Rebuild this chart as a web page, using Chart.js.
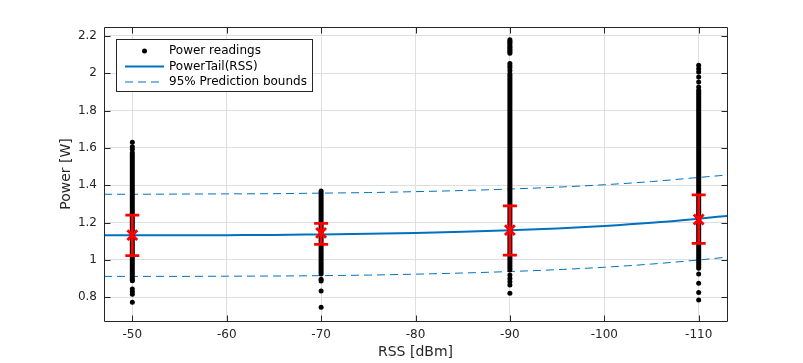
<!DOCTYPE html>
<html>
<head>
<meta charset="utf-8">
<script src="https://cdn.jsdelivr.net/npm/chart.js@4.4.1/dist/chart.umd.min.js"></script>
<style>
  html, body { margin: 0; padding: 0; background: #fff; }
</style>
</head>
<body>
<canvas id="chart-power" width="803" height="363"></canvas>
<script>
// --- data ---
const RSS_LEVELS = [-50, -70, -90, -110];
const X_TICKS = [-110, -100, -90, -80, -70, -60, -50];
const Y_TICKS = [0.8, 1, 1.2, 1.4, 1.6, 1.8, 2, 2.2];

// stretches where the readings overlap into a solid column
const DENSE_LOW  = [0.895, 0.925, 0.946, 0.955];
const DENSE_HIGH = [1.575, 1.370, 1.998, 1.909];

// isolated readings outside the solid stretch
const SPARSE_50  = [1.630, 1.607, 1.593, 0.888, 0.844, 0.830, 0.816, 0.773];
const SPARSE_70  = [0.896, 0.887, 0.834, 0.746];
const SPARSE_90  = [2.180, 2.172, 2.165, 2.157, 2.148, 2.140, 2.132, 2.124, 2.116, 2.108,
                    2.052, 2.040, 2.030, 2.015, 0.919, 0.901, 0.883, 0.866, 0.821];
const SPARSE_110 = [2.043, 2.025, 2.007, 1.980, 1.953, 1.927, 0.925, 0.875, 0.826, 0.785];

// PowerTail(RSS) fit and 95% prediction bounds
const FIT_RSS     = [-47, -50, -55, -60, -65, -70, -75, -80, -85, -90, -95, -100, -105, -110, -113];
const FIT_POWER   = [1.132, 1.132, 1.132, 1.133, 1.134, 1.137, 1.140, 1.145, 1.151, 1.159, 1.169, 1.182, 1.199, 1.221, 1.236];
const UPPER_BOUND = [1.352, 1.352, 1.353, 1.354, 1.355, 1.358, 1.361, 1.366, 1.372, 1.380, 1.390, 1.403, 1.420, 1.442, 1.455];
const LOWER_BOUND = [0.912, 0.912, 0.912, 0.913, 0.914, 0.916, 0.919, 0.924, 0.930, 0.938, 0.948, 0.961, 0.978, 1.000, 1.015];

// mean +/- std per RSS level (red error bars)
const MEAN_POWER = [1.133, 1.145, 1.160, 1.217];
const ERR_HIGH   = [1.240, 1.196, 1.290, 1.349];
const ERR_LOW    = [1.023, 1.084, 1.026, 1.089];

const BLUE = '#0072BD';
const RED  = '#FF0000';
const AXIS = '#262626';
const FONT = "'DejaVu Sans', sans-serif";

const sparse = [SPARSE_50, SPARSE_70, SPARSE_90, SPARSE_110];
const readings = [];
RSS_LEVELS.forEach((x, i) => sparse[i].forEach(y => readings.push({ x, y })));

const denseSets = RSS_LEVELS.map((x, i) => ({
  label: '',
  data: [{ x, y: DENSE_LOW[i] }, { x, y: DENSE_HIGH[i] }],
  showLine: true,
  borderColor: '#000',
  borderWidth: 5,
  borderCapStyle: 'round',
  pointRadius: 0,
  order: 2
}));

const curve = ys => FIT_RSS.map((x, i) => ({ x, y: ys[i] }));

// error bars + axes box with inward ticks
const framePlugin = {
  id: 'frame',
  afterDatasetsDraw(chart) {
    const { ctx, chartArea: a, scales: { x, y } } = chart;
    ctx.save();
    ctx.strokeStyle = RED;
    ctx.lineWidth = 2.8;
    RSS_LEVELS.forEach((v, i) => {
      const px = x.getPixelForValue(v);
      const hi = y.getPixelForValue(ERR_HIGH[i]);
      const lo = y.getPixelForValue(ERR_LOW[i]);
      ctx.beginPath();
      ctx.moveTo(px, hi); ctx.lineTo(px, lo);
      ctx.moveTo(px - 7, hi); ctx.lineTo(px + 7, hi);
      ctx.moveTo(px - 7, lo); ctx.lineTo(px + 7, lo);
      ctx.stroke();
    });

    ctx.strokeStyle = AXIS;
    ctx.lineWidth = 1;
    ctx.beginPath();
    const L = Math.round(a.left) + 0.5, R = Math.round(a.right) + 0.5;
    const T = Math.round(a.top) + 0.5, B = Math.round(a.bottom) + 0.5;
    ctx.rect(L, T, R - L, B - T);
    Y_TICKS.forEach(v => {
      const py = Math.round(y.getPixelForValue(v)) + 0.5;
      ctx.moveTo(L, py); ctx.lineTo(L + 6, py);
      ctx.moveTo(R, py); ctx.lineTo(R - 6, py);
    });
    X_TICKS.forEach(v => {
      const px = Math.round(x.getPixelForValue(v)) + 0.5;
      ctx.moveTo(px, B); ctx.lineTo(px, B - 6);
      ctx.moveTo(px, T); ctx.lineTo(px, T + 6);
    });
    ctx.stroke();
    ctx.restore();
  },
  afterDraw(chart) {
    const { ctx } = chart;
    const bx = 116.5, by = 39.5, bw = 196, bh = 52;
    ctx.save();
    ctx.fillStyle = '#fff';
    ctx.fillRect(bx, by, bw, bh);
    ctx.strokeStyle = AXIS;
    ctx.lineWidth = 1;
    ctx.strokeRect(bx, by, bw, bh);

    const rows = [51, 66.5, 82];
    const x0 = 125, x1 = 164;
    // Power readings
    ctx.fillStyle = '#000';
    ctx.beginPath();
    ctx.arc((x0 + x1) / 2, rows[0], 2.5, 0, Math.PI * 2);
    ctx.fill();
    // fit
    ctx.strokeStyle = BLUE;
    ctx.lineWidth = 2;
    ctx.beginPath(); ctx.moveTo(x0, rows[1]); ctx.lineTo(x1, rows[1]); ctx.stroke();
    // bounds
    ctx.lineWidth = 1;
    ctx.setLineDash([8, 5]);
    ctx.beginPath(); ctx.moveTo(x0, rows[2]); ctx.lineTo(x1, rows[2]); ctx.stroke();
    ctx.setLineDash([]);

    ctx.fillStyle = '#000';
    ctx.font = '12px ' + FONT;
    ctx.textBaseline = 'middle';
    ctx.textAlign = 'left';
    ['Power readings', 'PowerTail(RSS)', '95% Prediction bounds']
      .forEach((t, i) => ctx.fillText(t, 169, rows[i]));
    ctx.restore();
  }
};

new Chart(document.getElementById('chart-power'), {
  type: 'scatter',
  data: {
    datasets: [
      {
        label: 'mean',
        data: RSS_LEVELS.map((x, i) => ({ x, y: MEAN_POWER[i] })),
        pointStyle: 'crossRot',
        pointRadius: 7,
        pointBorderWidth: 2.8,
        pointBorderColor: RED,
        order: 1
      },
      {
        label: 'Power readings',
        data: readings,
        pointRadius: 2.5,
        pointBorderWidth: 0,
        pointBackgroundColor: '#000',
        order: 2
      },
      ...denseSets,
      {
        label: 'PowerTail(RSS)',
        data: curve(FIT_POWER),
        showLine: true,
        borderColor: BLUE,
        borderWidth: 2,
        cubicInterpolationMode: 'monotone',
        pointRadius: 0,
        order: 3
      },
      {
        label: '95% Prediction bounds',
        data: curve(UPPER_BOUND),
        showLine: true,
        borderColor: BLUE,
        borderWidth: 1,
        borderDash: [8, 5],
        cubicInterpolationMode: 'monotone',
        pointRadius: 0,
        order: 3
      },
      {
        label: '95% Prediction bounds',
        data: curve(LOWER_BOUND),
        showLine: true,
        borderColor: BLUE,
        borderWidth: 1,
        borderDash: [8, 5],
        cubicInterpolationMode: 'monotone',
        pointRadius: 0,
        order: 3
      }
    ]
  },
  options: {
    responsive: false,
    devicePixelRatio: 1,
    animation: false,
    layout: { padding: { left: 0, right: 76, top: 27, bottom: 0 } },
    plugins: { legend: { display: false }, tooltip: { enabled: false } },
    scales: {
      x: {
        type: 'linear',
        reverse: true,
        min: -113, max: -47,
        afterBuildTicks: s => { s.ticks = X_TICKS.map(v => ({ value: v })); },
        afterFit: s => { s.height = 42; },
        border: { display: false },
        grid: { color: '#dfdfdf', drawTicks: false },
        ticks: { color: AXIS, font: { family: FONT, size: 12 }, padding: 7, callback: v => String(v) },
        title: { display: true, text: 'RSS [dBm]', color: AXIS, font: { family: FONT, size: 14 }, padding: { top: 0, bottom: 2.6 } }
      },
      y: {
        type: 'linear',
        min: 0.673, max: 2.248,
        afterBuildTicks: s => { s.ticks = Y_TICKS.map(v => ({ value: v })); },
        afterFit: s => { s.width = 104; },
        border: { display: false },
        grid: { color: '#dfdfdf', drawTicks: false },
        ticks: { color: AXIS, font: { family: FONT, size: 12 }, padding: 7, callback: v => String(+v.toFixed(1)) },
        title: { display: true, text: 'Power [W]', color: AXIS, font: { family: FONT, size: 14 }, padding: { top: 57.6, bottom: 0 } }
      }
    }
  },
  plugins: [framePlugin]
});
</script>
</body>
</html>
